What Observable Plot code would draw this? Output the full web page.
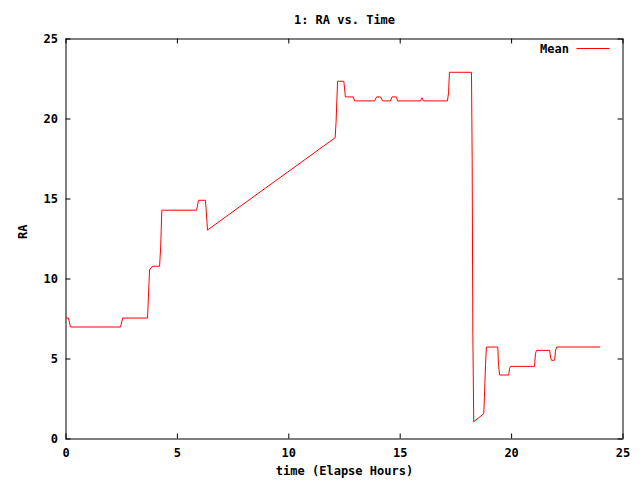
<!DOCTYPE html>
<html>
<head>
<meta charset="utf-8">
<script src="https://cdn.jsdelivr.net/npm/d3@7"></script>
<script src="https://cdn.jsdelivr.net/npm/@observablehq/plot@0.6"></script>
<style>
  html, body { margin: 0; padding: 0; background: #fff; }
  #wrap { position: relative; width: 640px; height: 480px; }
  svg { font-family: "DejaVu Sans Mono", monospace; font-weight: bold; }
</style>
</head>
<body>
<div id="wrap"></div>
<script>
const title = "1: RA vs. Time";
const xLabel = "time (Elapse Hours)";
const yLabel = "RA";
const seriesName = "Mean";
const xTicks = [0, 5, 10, 15, 20, 25];
const yTicks = [0, 5, 10, 15, 20, 25];

const time = [0, 0.11, 0.2, 2.45, 2.54, 3.66, 3.75, 3.84, 3.93, 4.2, 4.25, 4.3, 5.86, 5.95, 6.26, 6.33, 6.35,
  12.08, 12.12, 12.19, 12.47, 12.54, 12.9, 12.95, 13.85, 13.94, 14.12, 14.21, 14.56, 14.63, 14.83, 14.88,
  15.91, 15.98, 16.04, 17.12, 17.17, 17.21, 18.2, 18.23, 18.26, 18.3, 18.75, 18.78, 18.83, 18.87,
  19.38, 19.41, 19.46, 19.87, 19.91, 19.95, 21.03, 21.07, 21.12, 21.71, 21.75, 21.79, 21.93, 21.97, 22.02, 23.96];
const ra = [7.56, 7.56, 7.0, 7.0, 7.56, 7.56, 10.56, 10.75, 10.8, 10.8, 12.0, 14.3, 14.3, 14.92, 14.92, 13.52, 13.06,
  18.83, 19.77, 22.36, 22.36, 21.38, 21.38, 21.13, 21.13, 21.38, 21.38, 21.13, 21.13, 21.38, 21.38, 21.13,
  21.13, 21.33, 21.13, 21.13, 21.63, 22.92, 22.92, 17.48, 6.54, 1.08, 1.58, 2.58, 4.67, 5.75,
  5.75, 4.67, 4.0, 4.0, 4.42, 4.54, 4.54, 5.33, 5.54, 5.54, 5.08, 4.92, 4.92, 5.5, 5.75, 5.75];

const data = time.map((t, i) => ({time: t, ra: ra[i]}));

const W = 640, H = 480, ML = 65.5, MR = 17.5, MT = 38.5, MB = 41.5;
const tickLen = 5;
const frameW = W - ML - MR, frameH = H - MT - MB;

const chart = Plot.plot({
  width: W,
  height: H,
  marginLeft: ML,
  marginRight: MR,
  marginTop: MT,
  marginBottom: MB,
  style: {fontFamily: "DejaVu Sans Mono, monospace", fontSize: "12px", fontWeight: "bold", color: "#000", background: "#fff"},
  x: {domain: [0, 25]},
  y: {domain: [0, 25]},
  marks: [
    Plot.frame({stroke: "#000", strokeWidth: 1}),
    Plot.axisX(xTicks, {anchor: "bottom", tickSize: 0, tickPadding: 9, label: null, fontSize: 12}),
    Plot.axisY(yTicks, {anchor: "left", tickSize: 0, tickPadding: 8, label: null, fontSize: 12}),
    Plot.tickX(xTicks, {x: d => d, stroke: "#000", insetTop: frameH - tickLen}),
    Plot.tickX(xTicks, {x: d => d, stroke: "#000", insetBottom: frameH - tickLen}),
    Plot.tickY(yTicks, {y: d => d, stroke: "#000", insetRight: frameW - tickLen}),
    Plot.tickY(yTicks, {y: d => d, stroke: "#000", insetLeft: frameW - tickLen}),
    Plot.line(data, {x: "time", y: "ra", stroke: "#ff0000", strokeWidth: 1}),
    Plot.text([title], {frameAnchor: "top", dy: -24, text: d => d, fontSize: 12}),
    Plot.text([xLabel], {frameAnchor: "bottom", dy: 36, text: d => d, fontSize: 12}),
    Plot.text([yLabel], {frameAnchor: "left", dx: -43, rotate: -90, text: d => d, fontSize: 12}),
    Plot.text([seriesName], {frameAnchor: "top-right", dx: -54, dy: 10, lineAnchor: "middle", textAnchor: "end", text: d => d, fontSize: 12})
  ]
});
// legend sample line, placed in the frame's top-right corner
const legendG = d3.select(chart).append("g");
legendG.append("line")
  .attr("x1", W - MR - 46).attr("x2", W - MR - 13)
  .attr("y1", MT + 10).attr("y2", MT + 10)
  .attr("stroke", "#ff0000").attr("stroke-width", 1);
document.getElementById("wrap").appendChild(chart);
</script>
</body>
</html>
